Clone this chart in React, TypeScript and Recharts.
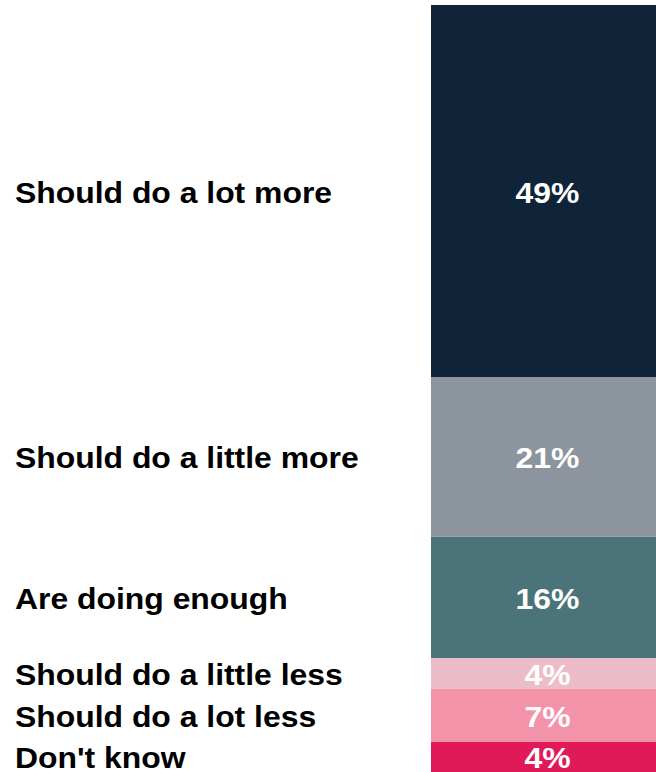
import { BarChart, Bar, XAxis, YAxis, LabelList } from 'recharts';

// stacked bottom -> top
const keys = ['dontKnow', 'lotLess', 'littleLess', 'enough', 'littleMore', 'lotMore'];
const labels = [
    "Don't know",
    'Should do a lot less',
    'Should do a little less',
    'Are doing enough',
    'Should do a little more',
    'Should do a lot more',
];
const values = [4, 7, 4, 16, 21, 49];
const colors = ['#e01a59', '#f393aa', '#ecbcc8', '#4a7479', '#8c949d', '#0f2438'];

const row: Record<string, number | string> = { name: 'all' };
keys.forEach((k, i) => {
    row[k] = values[i];
});
const data = [row];

const FONT = '"Liberation Sans", Arial, sans-serif';
const STRETCH = 1.1; // source text is a bit wider than plain Arial

export default function App() {
    return (
        <div style={{ position: 'absolute', left: 0, top: 0 }}>
            <BarChart
                width={656}
                height={772}
                data={data}
                margin={{ top: 5, right: 0, left: 431, bottom: 0 }}
                barCategoryGap={0}
            >
                <XAxis dataKey="name" hide />
                <YAxis hide domain={[0, 101]} />
                {keys.map((k, i) => (
                    <Bar key={k} dataKey={k} stackId="a" fill={colors[i]} isAnimationActive={false}>
                        <LabelList
                            dataKey={k}
                            content={(p: any) => {
                                const cy = p.y + p.height / 2 + 1;
                                return (
                                    <g>
                                        <text
                                            transform={`translate(15 ${cy}) scale(${STRETCH} 1)`}
                                            x={0}
                                            y={0}
                                            dominantBaseline="central"
                                            textAnchor="start"
                                            fontFamily={FONT}
                                            fontWeight="bold"
                                            fontSize={29}
                                            fill="#000"
                                        >
                                            {labels[i]}
                                        </text>
                                        <text
                                            transform={`translate(${p.x + p.width / 2 + 4} ${cy}) scale(${STRETCH} 1)`}
                                            x={0}
                                            y={0}
                                            dominantBaseline="central"
                                            textAnchor="middle"
                                            fontFamily={FONT}
                                            fontWeight="bold"
                                            fontSize={29}
                                            fill="#fff"
                                        >
                                            {p.value}%
                                        </text>
                                    </g>
                                );
                            }}
                        />
                    </Bar>
                ))}
            </BarChart>
        </div>
    );
}
